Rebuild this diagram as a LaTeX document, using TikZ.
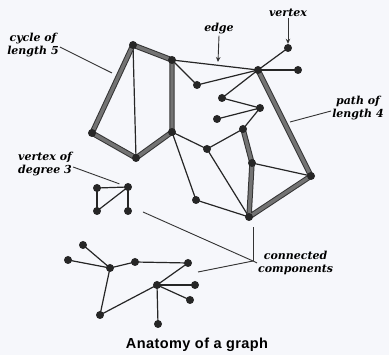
\documentclass[tikz,border=0pt]{standalone}
\usepackage{fontspec}
\newfontfamily\lblfont{DejaVu Serif}
\newfontfamily\ttlfont[LetterSpace=3]{Liberation Sans}
\usetikzlibrary{arrows.meta,backgrounds}
\definecolor{paper}{RGB}{246,247,251}
\tikzset{
  >={Stealth[length=5pt,width=4.5pt]},
  gv/.style={circle,fill=black!85,inner sep=0pt,minimum size=8pt},
  gedge/.style={line width=1.2pt,black!85},
  hedge/.style={draw=black!80,double=black!55,double distance=3.4pt,line width=1pt},
  lbl/.style={font=\lblfont\bfseries\itshape\fontsize{11}{12.5}\selectfont,
    align=center,inner sep=1pt},
  ptr/.style={line width=0.9pt,black!80},
  ttl/.style={font=\ttlfont\bfseries\fontsize{14.5}{16}\selectfont},
}

\begin{document}
\begin{tikzpicture}[x=1pt,y=-1pt]
  \useasboundingbox (0,0) rectangle (389,355);
  % --- main component: cycle of length 5 on the left, path of length 4 on the right ---
  \node[gv] (A) at (133,45) {};
  \node[gv] (B) at (172,60) {};
  \node[gv] (C) at (92,133) {};
  \node[gv] (D) at (136,158) {};
  \node[gv] (E) at (172,132) {};
  \node[gv] (G) at (197,85) {};
  \node[gv] (H) at (258,70) {};
  \node[gv] (T) at (288,48) {};
  \node[gv] (U) at (298,70) {};
  \node[gv] (I) at (222,98) {};
  \node[gv] (J) at (260,108) {};
  \node[gv] (K) at (217,119) {};
  \node[gv] (N) at (243,129) {};
  \node[gv] (M) at (207,149) {};
  \node[gv] (R) at (252,163) {};
  \node[gv] (P) at (311,176) {};
  \node[gv] (S) at (196,200) {};
  \node[gv] (Q) at (249,217) {};
  % --- small component ---
  \node[gv] (V1) at (97,188) {};
  \node[gv] (V2) at (128,187) {};
  \node[gv] (V3) at (97,211) {};
  \node[gv] (V4) at (128,211) {};
  % --- tree component ---
  \node[gv] (ta) at (83,245) {};
  \node[gv] (tb) at (68,260) {};
  \node[gv] (tc) at (110,268) {};
  \node[gv] (td) at (135,262) {};
  \node[gv] (te) at (188,263) {};
  \node[gv] (tf) at (157,285) {};
  \node[gv] (tg) at (100,315) {};
  \node[gv] (th) at (158,324) {};
  \node[gv] (ti) at (195,285) {};
  \node[gv] (tj) at (190,300) {};

  \begin{scope}[on background layer]
    \fill[paper] (0,0) rectangle (389,355);
    % thin edges
    \foreach \u/\v in {A/D,B/H,B/G,G/H,H/T,H/U,H/I,I/J,J/K,J/N,E/M,M/N,M/Q,
      E/S,S/Q,R/P,V1/V2,V1/V3,V2/V4,V3/V2,ta/tc,tb/tc,tc/td,td/te,tc/tg,
      tg/tf,tf/te,tf/th,tf/ti,tf/tj}
      \draw[gedge] (\u.center) -- (\v.center);
    % highlighted cycle and path
    \draw[hedge,line join=round] (A.center) -- (B.center) -- (E.center)
      -- (D.center) -- (C.center) -- cycle;
    \draw[hedge,line join=round] (H.center) -- (P.center) -- (Q.center)
      -- (R.center) -- (N.center);
  \end{scope}

  % --- labels ---
  \node[lbl] (cyclbl) at (33,45) {cycle of\\length 5};
  \node[lbl] (edgelbl) at (219,29) {edge};
  \node[lbl] (vtxlbl) at (288,13) {vertex};
  \node[lbl] (pathlbl) at (358,108) {path of\\length 4};
  \node[lbl] (deglbl) at (45,164) {vertex of\\degree 3};
  \node[lbl,anchor=west] (complbl) at (257,263) {connected\\components};
  \node[ttl] (title) at (197,345) {Anatomy of a graph};

  \coordinate (cycpt) at (112,73);
  \coordinate (edgept) at (218,62);
  \coordinate (pathpt) at (290,122);
  \coordinate (cc) at (253,261);
  \coordinate (ccmain) at (253,227);
  \coordinate (ccsmall) at (143,212);
  \coordinate (cctree) at (198,272);

  \draw[ptr] ([yshift=-2pt]cyclbl.east) -- (cycpt);
  \draw[ptr,->] (edgelbl.south) -- (edgept);
  \draw[ptr,->] (vtxlbl.south) -- (T);
  \draw[ptr] ([yshift=-3pt]pathlbl.west) -- (pathpt);
  \draw[ptr,shorten >=5pt] ([yshift=-3pt]deglbl.east) -- (V2);
  \draw[ptr] (complbl.west) -- (cc);
  \draw[ptr] (cc) -- (ccmain);
  \draw[ptr] (cc) -- (ccsmall);
  \draw[ptr] (cc) -- (cctree);
\end{tikzpicture}
\end{document}
